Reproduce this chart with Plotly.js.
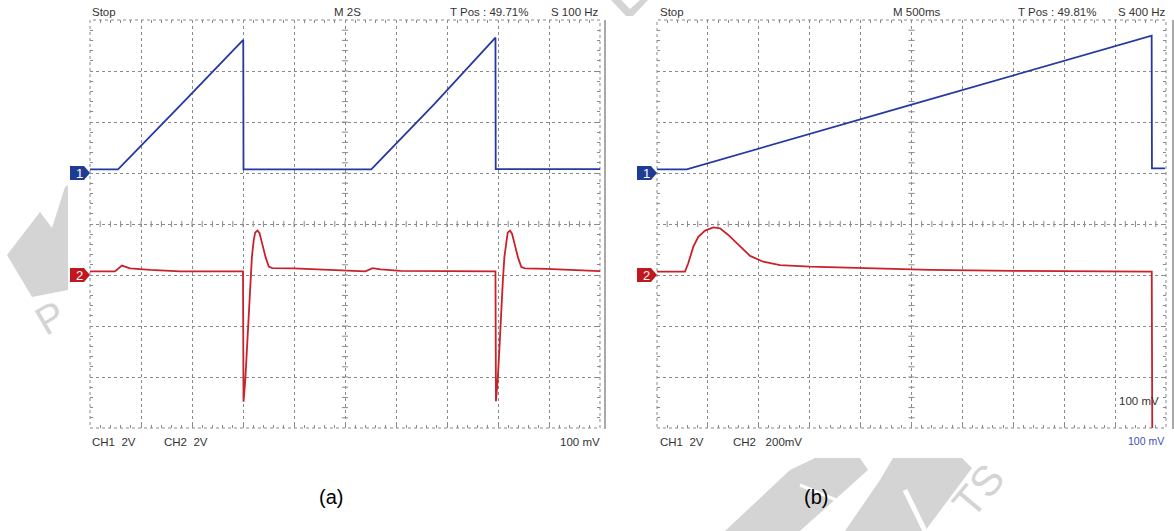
<!DOCTYPE html>
<html><head><meta charset="utf-8">
<script src="https://cdn.plot.ly/plotly-3.0.1.min.js"></script>
<style>html,body{margin:0;padding:0;background:#fff;} #chart{width:1174px;height:531px;}</style>
</head><body><div id="chart"></div>
<script>
// ---------- Panel (a): M 2S (time in s) ----------
const aTimeCh1 = [0, 1.10, 3.55, 6.01, 6.02, 11.03, 13.50, 15.90, 15.91, 20];
const aCh1Volts = [0.14, 0.14, 2.66, 5.22, 0.14, 0.14, 2.70, 5.31, 0.15, 0.15];
const aTimeCh2 = [0, 0.98, 1.25, 1.57, 2.36, 3.54, 6.00, 6.02, 6.09, 6.16, 6.22, 6.29, 6.35, 6.42, 6.48, 6.57, 6.65, 6.75, 6.88, 7.01, 7.15, 7.98, 9.43,
  10.80, 11.08, 11.40, 12.18, 15.90, 15.92, 15.99, 16.06, 16.12, 16.19, 16.25, 16.32, 16.38, 16.47, 16.55, 16.65, 16.78, 16.91, 17.05, 17.90, 19.30, 20];
const aCh2Volts = [0.14, 0.14, 0.37, 0.26, 0.20, 0.14, 0.14, -4.97, -4.12, -2.81, -1.37, -0.20, 0.72, 1.37, 1.67, 1.74, 1.64, 1.24, 0.72, 0.33, 0.27, 0.26, 0.20,
  0.14, 0.27, 0.22, 0.16, 0.14, -4.95, -4.10, -2.80, -1.40, -0.22, 0.70, 1.35, 1.66, 1.74, 1.62, 1.22, 0.70, 0.32, 0.26, 0.24, 0.18, 0.15];

// ---------- Panel (b): M 500ms (time in ms) ----------
const bTimeCh1 = [0, 292, 2500, 4859, 4862, 4990];
const bCh1Volts = [0.145, 0.145, 2.68, 5.385, 0.18, 0.18];
const bTimeCh2 = [0, 275, 307, 357, 406, 472, 553, 619, 700, 815, 914, 1044, 1208, 1503, 2026, 2682, 3500, 4200, 4860, 4865];
const bCh2MilliVolts = [13, 13, 46, 111, 150, 174, 187, 183, 157, 111, 75, 52, 39, 33, 26, 20, 16, 13, 13, -600];

// ---------- Text ----------
const topLabelsA = ['Stop', 'M 2S', 'T Pos : 49.71%', 'S 100 Hz'];
const bottomLabelsA = ['CH1\u00a0 2V', 'CH2\u00a0 2V', '100 mV'];
const topLabelsB = ['Stop', 'M 500ms', 'T Pos : 49.81%', 'S 400 Hz'];
const bottomLabelsB = ['CH1\u00a0 2V', 'CH2\u00a0\u00a0 200mV', '100 mV'];
const extraLabelB = '100 mV';
const panelLabels = ['(a)', '(b)'];
const channelLabels = ['1', '2'];

// channel settings (volts per division, ground position in divisions)
const chA = {ch1: {scale: 2, offset: 1}, ch2: {scale: 2, offset: -1}};
const chB = {ch1: {scale: 2, offset: 1}, ch2: {scale: 200, offset: -1}};

const W = 1174, H = 531;
const PX = x => x / W, PY = y => 1 - y / H;
const BLUE = '#2539a2', RED = '#c8222b', GRID = '#8a8a8a';
const MBLUE = '#1f3c95', MRED = '#c1171f';
const FONT = 'Liberation Sans, Arial, sans-serif';

const toDiv = (arr, c) => arr.map(v => c.offset + v / c.scale);

const traces = [
  {x: aTimeCh1, y: toDiv(aCh1Volts, chA.ch1), xaxis: 'x', yaxis: 'y', mode: 'lines', line: {color: BLUE, width: 1.8}, hoverinfo: 'skip'},
  {x: aTimeCh2, y: toDiv(aCh2Volts, chA.ch2), xaxis: 'x', yaxis: 'y', mode: 'lines', line: {color: RED, width: 1.8}, hoverinfo: 'skip'},
  {x: bTimeCh1, y: toDiv(bCh1Volts, chB.ch1), xaxis: 'x2', yaxis: 'y2', mode: 'lines', line: {color: BLUE, width: 1.8}, hoverinfo: 'skip'},
  {x: bTimeCh2, y: toDiv(bCh2MilliVolts, chB.ch2), xaxis: 'x2', yaxis: 'y2', mode: 'lines', line: {color: RED, width: 1.8}, hoverinfo: 'skip'}
];

const yDom = [PY(428), PY(20)];
function xAx(dom, range, dtick, anchor) {
  return {domain: dom, range: range, dtick: dtick, anchor: anchor, showgrid: true, gridcolor: GRID, griddash: '3px,3px', gridwidth: 1,
    zeroline: false, showticklabels: false, ticks: 'inside', ticklen: 3, tickcolor: GRID, tickwidth: 1, mirror: 'ticks', showline: false,
    minor: {ticks: 'inside', dtick: dtick / 5, ticklen: 3, tickcolor: GRID, tickwidth: 1, showgrid: false}, fixedrange: true};
}
function yAx(anchor) {
  return {domain: yDom, range: [-4, 4], dtick: 1, anchor: anchor, showgrid: true, gridcolor: GRID, griddash: '3px,3px', gridwidth: 1,
    zeroline: false, showticklabels: false, ticks: 'inside', ticklen: 3, tickcolor: GRID, tickwidth: 1, mirror: 'ticks', showline: false,
    minor: {ticks: 'inside', dtick: 0.2, ticklen: 3, tickcolor: GRID, tickwidth: 1, showgrid: false}, fixedrange: true};
}

const shapes = [];
// watermarks (light grey)
function poly(pts) {
  const d = 'M' + pts.map(p => PX(p[0]) + ',' + PY(p[1])).join(' L') + ' Z';
  shapes.push({type: 'path', xref: 'paper', yref: 'paper', path: d, fillcolor: '#d4d4d4', line: {width: 0}, layer: 'below'});
}
function whiteLine(p0, p1, w) {
  shapes.push({type: 'line', xref: 'paper', yref: 'paper', x0: PX(p0[0]), y0: PY(p0[1]), x1: PX(p1[0]), y1: PY(p1[1]), line: {color: '#fff', width: w}, layer: 'below'});
}
poly([[68, 185], [68, 290], [32, 297], [7, 255], [40, 212], [52, 228], [65, 187]]);
poly([[611, 0], [621, 0], [630, 9], [640, 0], [648, 0], [633, 16], [626, 16]]);
poly([[725, 531], [790, 470], [815, 458], [860, 458], [868, 470], [800, 531]]);
whiteLine([800, 485], [860, 510], 3);
poly([[845, 531], [880, 480], [893, 458], [962, 458], [972, 468], [925, 531]]);
whiteLine([905, 490], [925, 531], 5);

// dashed borders
[['x', 'y'], ['x2', 'y2']].forEach(([xr, yr]) => {
  shapes.push({type: 'rect', xref: xr + ' domain', yref: yr + ' domain', x0: 0, x1: 1, y0: 0, y1: 1,
    line: {color: GRID, width: 1, dash: '3px,3px'}, fillcolor: 'rgba(0,0,0,0)', layer: 'below'});
});
// centre cross ticks
function centreTicks(xr, yr, xmax) {
  const xs = xmax / 50;
  for (let k = 1; k < 50; k++) {
    shapes.push({type: 'line', xref: xr, yref: yr, x0: k * xs, x1: k * xs, y0: -0.06, y1: 0.06, line: {color: GRID, width: 1}, layer: 'below'});
  }
  for (let k = -19; k < 20; k++) {
    if (k === 0) continue;
    const y = k * 0.2;
    shapes.push({type: 'line', xref: xr, yref: yr, x0: xmax / 2 - xs * 0.3, x1: xmax / 2 + xs * 0.3, y0: y, y1: y, line: {color: GRID, width: 1}, layer: 'below'});
  }
}
centreTicks('x', 'y', 20);
centreTicks('x2', 'y2', 5000);
// screen edge lines
[605, 1173].forEach(x => shapes.push({type: 'line', xref: 'paper', yref: 'paper', x0: PX(x), x1: PX(x), y0: PY(20), y1: PY(429), line: {color: '#555', width: 1}}));
// channel markers
function marker(xTip, yTip, color) {
  const pts = [[xTip - 20, yTip - 7], [xTip - 6, yTip - 7], [xTip, yTip], [xTip - 6, yTip + 7], [xTip - 20, yTip + 7]];
  const d = 'M' + pts.map(p => PX(p[0]) + ',' + PY(p[1])).join(' L') + ' Z';
  shapes.push({type: 'path', xref: 'paper', yref: 'paper', path: d, fillcolor: color, line: {width: 0}});
}
marker(90, 173, MBLUE); marker(90, 275, MRED);
marker(657, 173, MBLUE); marker(657, 275, MRED);

const annotations = [];
function txt(t, x, y, anchor, opts) {
  opts = opts || {};
  annotations.push({text: t, x: PX(x), y: PY(y), xref: 'paper', yref: 'paper', xanchor: anchor, yanchor: 'middle', showarrow: false,
    font: {family: FONT, size: opts.size || 11.5, color: opts.color || '#333'}, textangle: opts.angle || 0});
}
// watermark letters
txt('P', 50, 318, 'center', {size: 40, color: '#d4d4d4', angle: -30});
txt('TS', 978, 490, 'center', {size: 42, color: '#d4d4d4', angle: -50});

txt(topLabelsA[0], 90, 11.5, 'left'); txt(topLabelsA[1], 332, 11.5, 'left'); txt(topLabelsA[2], 448, 11.5, 'left'); txt(topLabelsA[3], 601, 11.5, 'right');
txt(bottomLabelsA[0], 90, 442, 'left'); txt(bottomLabelsA[1], 162, 442, 'left'); txt(bottomLabelsA[2], 602, 442, 'right');
txt(topLabelsB[0], 658, 11.5, 'left'); txt(topLabelsB[1], 891, 11.5, 'left'); txt(topLabelsB[2], 1016, 11.5, 'left'); txt(topLabelsB[3], 1168, 11.5, 'right');
txt(bottomLabelsB[0], 658, 442, 'left'); txt(bottomLabelsB[1], 731, 442, 'left'); txt(bottomLabelsB[2], 1166, 441, 'right', {color: '#3c50b4', size: 10.5});
txt(extraLabelB, 1161, 401, 'right');
txt(panelLabels[0], 331, 497, 'center', {size: 20, color: '#000'});
txt(panelLabels[1], 816, 497, 'center', {size: 20, color: '#000'});
[[79, 173], [646, 173]].forEach(p => txt(channelLabels[0], p[0], p[1], 'center', {size: 13, color: '#fff'}));
[[79, 275], [646, 275]].forEach(p => txt(channelLabels[1], p[0], p[1], 'center', {size: 13, color: '#fff'}));

const layout = {
  width: W, height: H, margin: {l: 0, r: 0, t: 0, b: 0}, paper_bgcolor: '#fff', plot_bgcolor: 'rgba(0,0,0,0)', showlegend: false,
  xaxis: xAx([PX(90), PX(600)], [0, 20], 2, 'y'), yaxis: yAx('x'),
  xaxis2: xAx([PX(657), PX(1166)], [0, 5000], 500, 'y2'), yaxis2: yAx('x2'),
  shapes: shapes, annotations: annotations
};
Plotly.newPlot('chart', traces, layout, {staticPlot: true, displayModeBar: false});
</script></body></html>
